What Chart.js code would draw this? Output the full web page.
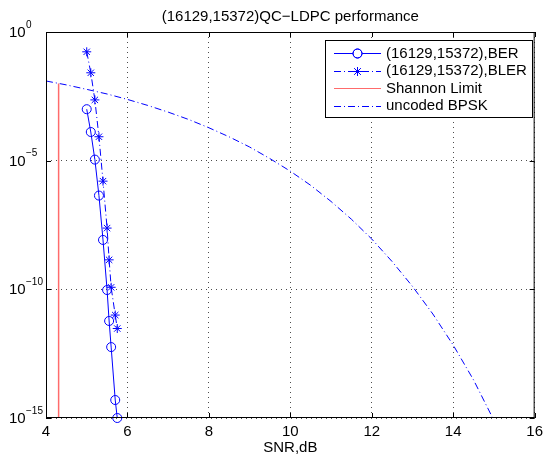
<!DOCTYPE html>
<html>
<head>
<meta charset="utf-8">
<script src="https://cdn.jsdelivr.net/npm/chart.js@4.4.0/dist/chart.umd.min.js"></script>
<style>
html, body { margin: 0; padding: 0; background: #fff; }
#wrap { width: 548px; height: 456px; }
</style>
</head>
<body>
<div id="wrap"><canvas id="chart" width="548" height="456"></canvas></div>
<script>
// values
var snr = [5.0, 5.1, 5.2, 5.3, 5.4, 5.5, 5.55, 5.6, 5.7, 5.75];
var ber = [1.0e-3, 1.3e-4, 1.1e-5, 4.4e-7, 8.3e-9, 9.4e-11, 5.9e-12, 5.7e-13, 5.0e-15, 1.0e-15];
var bler = [0.17, 0.026, 2.3e-3, 8.5e-5, 1.6e-6, 2.4e-8, 1.4e-9, 1.2e-10, 1.0e-11, 3.0e-12];
var shannonSnr = [4.31, 4.31];
var shannonVal = [1e-2, 1e-15];
var bpskSnr = [4, 4.5, 5, 5.5, 6, 6.5, 7, 7.5, 8, 8.5, 9, 9.5, 10, 10.5, 11, 11.5, 12, 12.5, 13, 13.5, 14, 14.5, 14.97];
var bpskBer = [1.25e-2, 8.8e-3, 5.9e-3, 3.9e-3, 2.4e-3, 1.4e-3, 7.7e-4, 4.0e-4, 1.9e-4, 8.4e-5, 3.4e-5, 1.2e-5, 3.9e-6,
               1.1e-6, 2.6e-7, 5.3e-8, 9.0e-9, 1.2e-9, 1.3e-10, 1.1e-11, 6.8e-13, 3.0e-14, 1.0e-15];
var xTicks = [4, 6, 8, 10, 12, 14, 16];
var yTicks = [1e0, 1e-5, 1e-10, 1e-15];
var yTickExp = ['0', '\u22125', '\u221210', '\u221215'];
var legendLabels = ['(16129,15372),BER', '(16129,15372),BLER', 'Shannon Limit', 'uncoded BPSK'];
var titleText = '(16129,15372)QC\u2212LDPC performance';

var FONT = '"Liberation Sans", Arial, Helvetica, sans-serif';
var BLUE = '#0000ff';
var RED = '#ff6b6b';
var DASHDOT = [7, 3, 1, 3];

function pts(xs, ys) {
    return xs.map(function(x, i) { return {x: x, y: ys[i]}; });
}

// matlab-like frame, inner ticks, y labels with exponents, title and legend
var matlabDecor = {
    id: 'matlabDecor',
    afterDraw: function(chart) {
        var ctx = chart.ctx;
        var a = chart.chartArea;
        var xs = chart.scales.x, ys = chart.scales.y;
        ctx.save();
        ctx.strokeStyle = '#000';
        ctx.lineWidth = 1;
        ctx.setLineDash([]);
        ctx.strokeRect(a.left + 0.5, a.top + 0.5, a.right - a.left - 1, a.bottom - a.top - 1);

        ctx.beginPath();
        xTicks.forEach(function(v) {
            var px = Math.round(xs.getPixelForValue(v)) + 0.5;
            ctx.moveTo(px, a.bottom); ctx.lineTo(px, a.bottom - 5);
            ctx.moveTo(px, a.top); ctx.lineTo(px, a.top + 5);
        });
        yTicks.forEach(function(v) {
            var py = Math.round(ys.getPixelForValue(v)) + 0.5;
            ctx.moveTo(a.left, py); ctx.lineTo(a.left + 5, py);
            ctx.moveTo(a.right, py); ctx.lineTo(a.right - 5, py);
        });
        ctx.stroke();

        ctx.fillStyle = '#000';
        ctx.textBaseline = 'middle';
        ctx.textAlign = 'left';
        yTicks.forEach(function(v, i) {
            var py = ys.getPixelForValue(v);
            ctx.font = '15px ' + FONT;
            ctx.fillText('10', 9, py + 1);
            ctx.font = '10px ' + FONT;
            ctx.fillText(yTickExp[i], 26, py - 7);
        });

        ctx.font = '15px ' + FONT;
        ctx.textAlign = 'center';
        ctx.fillText(titleText, (a.left + a.right) / 2, 17);

        // legend box
        var lx0 = 325, ly0 = 40, lx1 = 532, ly1 = 117;
        ctx.fillStyle = '#fff';
        ctx.fillRect(lx0, ly0, lx1 - lx0, ly1 - ly0);
        ctx.strokeStyle = '#000';
        ctx.strokeRect(lx0 + 0.5, ly0 + 0.5, lx1 - lx0, ly1 - ly0);
        var rows = [53, 70.5, 88, 105.5];
        var sx0 = 334, sx1 = 381, sxm = (sx0 + sx1) / 2;
        var styles = [
            {color: BLUE, dash: [], marker: 'circle'},
            {color: BLUE, dash: DASHDOT, marker: 'star'},
            {color: RED, dash: [], marker: null},
            {color: BLUE, dash: DASHDOT, marker: null}
        ];
        styles.forEach(function(s, i) {
            var y = Math.round(rows[i]) + 0.5;
            ctx.strokeStyle = s.color;
            ctx.lineWidth = 1;
            ctx.setLineDash(s.dash);
            ctx.beginPath();
            ctx.moveTo(sx0, y); ctx.lineTo(sx1, y);
            ctx.stroke();
            ctx.setLineDash([]);
            if (s.marker) {
                Chart.helpers.drawPoint(ctx, {pointStyle: s.marker, radius: 4.5, borderWidth: 1}, sxm, y);
                ctx.stroke();
            }
            ctx.fillStyle = '#000';
            ctx.textAlign = 'left';
            ctx.textBaseline = 'middle';
            ctx.font = '15px ' + FONT;
            ctx.fillText(legendLabels[i], 386, rows[i] + 0.5);
        });
        ctx.restore();
    }
};

var ctx = document.getElementById('chart').getContext('2d');
var chart = new Chart(ctx, {
    type: 'scatter',
    data: {
        datasets: [{
            label: legendLabels[0],
            data: pts(snr, ber),
            showLine: true,
            borderColor: BLUE,
            borderWidth: 1,
            pointStyle: 'circle',
            pointRadius: 4.5,
            pointBorderColor: BLUE,
            pointBackgroundColor: 'rgba(0,0,0,0)',
            pointBorderWidth: 1,
            clip: false
        }, {
            label: legendLabels[1],
            data: pts(snr, bler),
            showLine: true,
            borderColor: BLUE,
            borderWidth: 1,
            borderDash: DASHDOT,
            pointStyle: 'star',
            pointRadius: 4.5,
            pointBorderColor: BLUE,
            pointBorderWidth: 1
        }, {
            label: legendLabels[2],
            data: pts(shannonSnr, shannonVal),
            showLine: true,
            borderColor: RED,
            borderWidth: 1.5,
            pointRadius: 0
        }, {
            label: legendLabels[3],
            data: pts(bpskSnr, bpskBer),
            showLine: true,
            borderColor: BLUE,
            borderWidth: 1,
            borderDash: DASHDOT,
            pointRadius: 0
        }]
    },
    options: {
        responsive: false,
        animation: false,
        devicePixelRatio: 1,
        layout: { padding: { top: 32, right: 10, left: 0, bottom: 0 } },
        plugins: {
            legend: { display: false },
            title: { display: false },
            tooltip: { enabled: false }
        },
        scales: {
            x: {
                type: 'linear',
                min: 4,
                max: 16,
                afterBuildTicks: function(scale) {
                    scale.ticks = xTicks.map(function(v) { return {value: v}; });
                },
                afterFit: function(scale) { scale.height = 38; },
                ticks: {
                    color: '#000',
                    padding: 5,
                    maxRotation: 0,
                    font: { family: FONT, size: 15 }
                },
                grid: {
                    color: 'rgba(0,0,0,0.7)',
                    lineWidth: 1,
                    drawTicks: false
                },
                border: { display: false, dash: [1, 4] },
                title: {
                    display: true,
                    text: 'SNR,dB',
                    color: '#000',
                    font: { family: FONT, size: 15, lineHeight: 1 },
                    padding: { top: 0, bottom: 1 }
                }
            },
            y: {
                type: 'logarithmic',
                min: 1e-15,
                max: 1,
                afterBuildTicks: function(scale) {
                    scale.ticks = yTicks.map(function(v) { return {value: v}; });
                },
                afterFit: function(scale) { scale.width = 46; },
                ticks: { display: false },
                grid: {
                    color: 'rgba(0,0,0,0.7)',
                    lineWidth: 1,
                    drawTicks: false
                },
                border: { display: false, dash: [1, 4] }
            }
        }
    },
    plugins: [matlabDecor]
});
</script>
</body>
</html>
